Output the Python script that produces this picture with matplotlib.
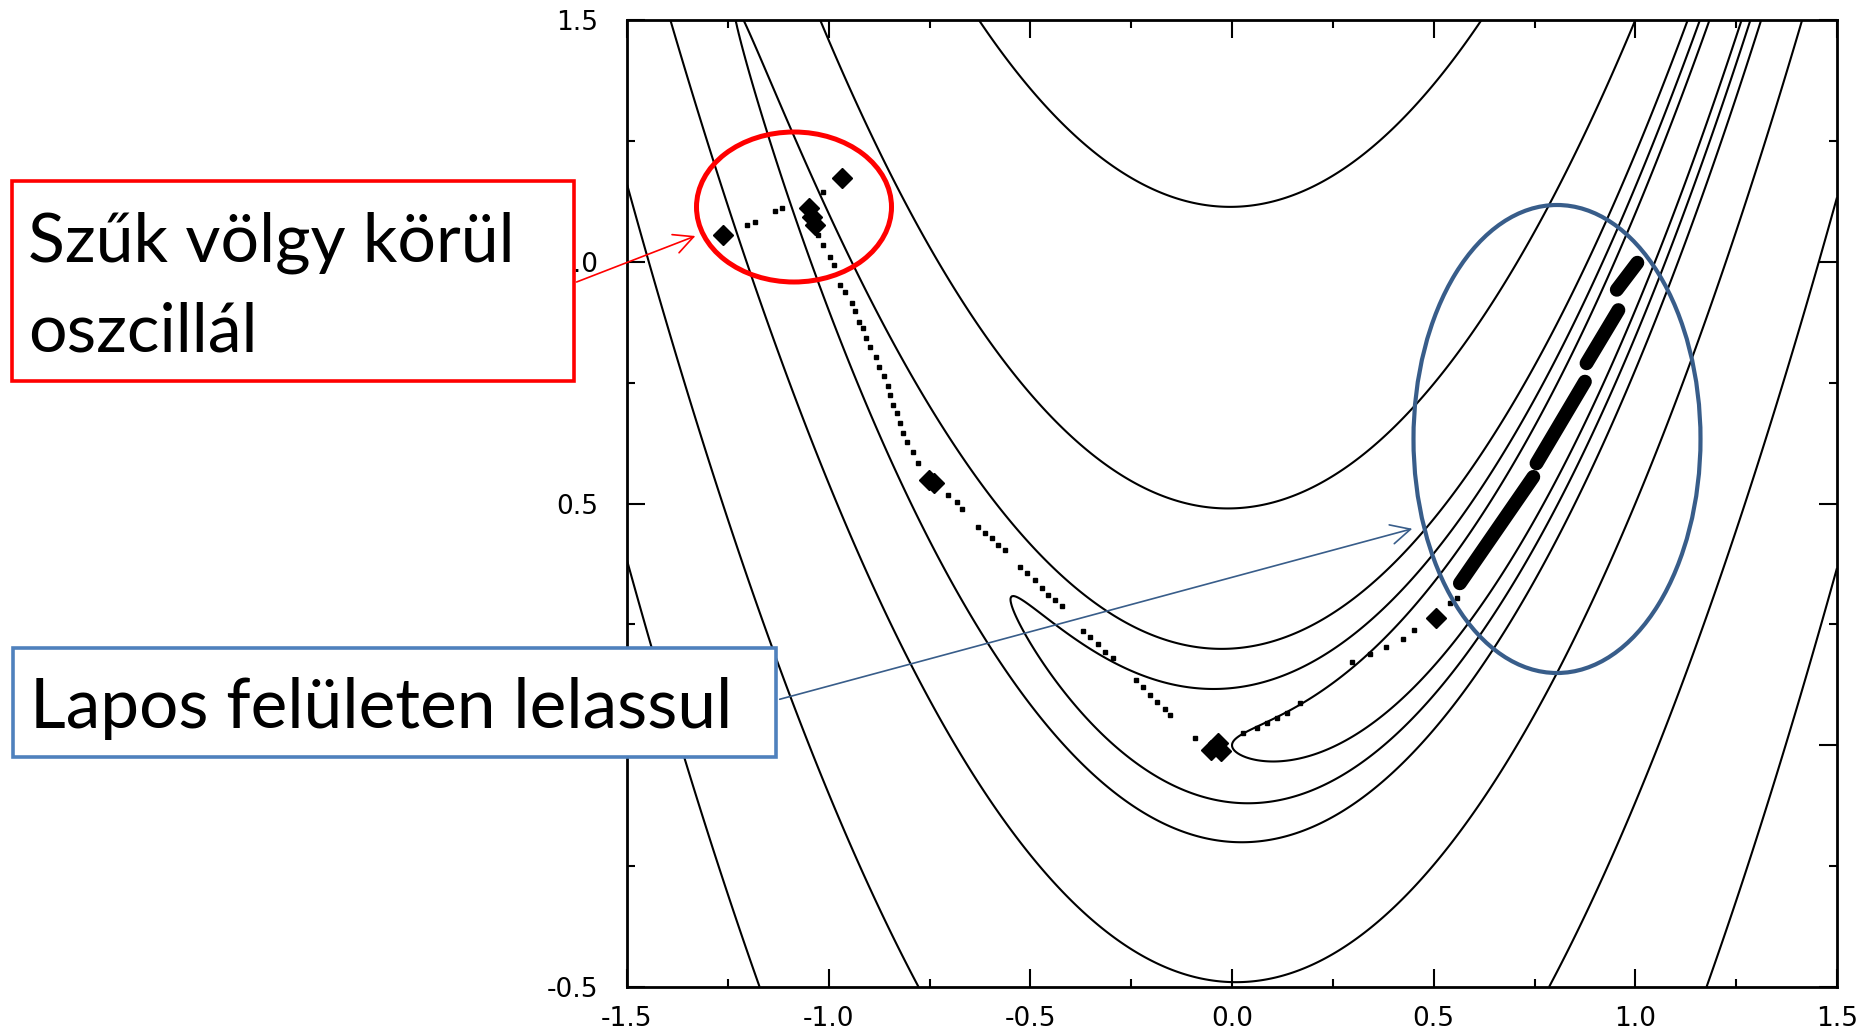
import numpy as np
import matplotlib.pyplot as plt
from matplotlib.patches import Rectangle, Ellipse, FancyArrowPatch
from matplotlib.ticker import MultipleLocator, FormatStrFormatter

plt.rcParams['axes.unicode_minus'] = False

# Rosenbrock surface and the contour levels
ros_a = 1.0
ros_b = 100.0
contour_levels = [1, 2.4, 5, 25, 125, 355]

x_range = [-1.5, 1.5]
y_range = [-0.5, 1.5]
y_ticks = [-0.5, 0.0, 0.5, 1.0, 1.5]
# the 0.0 label sits under the blue callout box in the original
y_tick_labels = ['-0.5', '', '0.5', '1.0', '1.5']

# single iterates of the descent (small dots)
step_x = [-1.203, -1.183, -1.133, -1.116, -1.013,
          -1.026, -1.013, -0.997, -0.988,
          -0.972, -0.960, -0.943, -0.934, -0.924, -0.915, -0.907, -0.898,
          -0.882, -0.874, -0.863, -0.854, -0.848, -0.840, -0.831, -0.823,
          -0.815, -0.807, -0.790, -0.778,
          -0.703, -0.683, -0.670, -0.629, -0.612, -0.596, -0.580, -0.563,
          -0.526, -0.509, -0.488, -0.472, -0.455, -0.439, -0.422,
          -0.369, -0.352, -0.332, -0.315, -0.295,
          -0.237, -0.220, -0.204, -0.187, -0.166, -0.154, -0.092,
          0.028, 0.062, 0.087, 0.112, 0.136, 0.168,
          0.297, 0.342, 0.382, 0.424, 0.450, 0.540, 0.557]
step_y = [1.076, 1.083, 1.104, 1.111, 1.145,
          1.055, 1.035, 1.010, 0.993,
          0.952, 0.938, 0.914, 0.899, 0.876, 0.862, 0.842, 0.823,
          0.802, 0.783, 0.764, 0.743, 0.724, 0.704, 0.687, 0.666,
          0.645, 0.628, 0.607, 0.583,
          0.518, 0.503, 0.488, 0.452, 0.440, 0.428, 0.414, 0.404,
          0.369, 0.356, 0.342, 0.325, 0.311, 0.300, 0.287,
          0.237, 0.223, 0.209, 0.193, 0.180,
          0.135, 0.121, 0.104, 0.090, 0.076, 0.063, 0.014,
          0.025, 0.036, 0.046, 0.056, 0.067, 0.087,
          0.172, 0.189, 0.203, 0.220, 0.238, 0.294, 0.304]

# places where many iterates pile up
cluster_x = [-1.261, -1.050, -1.042, -1.034, -0.968, -0.752, -0.738,
             -0.052, -0.035, -0.028, 0.505]
cluster_y = [1.055, 1.112, 1.093, 1.075, 1.173, 0.548, 0.543,
             -0.010, 0.004, -0.012, 0.263]

# dense runs along the valley towards (1, 1)
run_x0 = [0.565, 0.755, 0.879, 0.954]
run_y0 = [0.335, 0.583, 0.790, 0.942]
run_x1 = [0.747, 0.875, 0.958, 1.005]
run_y1 = [0.555, 0.752, 0.900, 0.998]

red_text = ['Szűk völgy körül', 'oszcillál']
blue_text = 'Lapos felületen lelassul'

W, H = 1868, 1036
fig = plt.figure(figsize=(W / 100, H / 100), dpi=100)
ax = fig.add_axes([627 / W, 1 - 987 / H, (1837 - 627) / W, (987 - 20) / H])

gx = np.linspace(x_range[0], x_range[1], 900)
gy = np.linspace(y_range[0], y_range[1], 700)
X, Y = np.meshgrid(gx, gy)
Z = (ros_a - X) ** 2 + ros_b * (Y - X ** 2) ** 2
ax.contour(X, Y, Z, levels=contour_levels, colors='black', linewidths=1.5)

# descent path
ax.plot(step_x, step_y, 's', color='black', markersize=3)
ax.plot(cluster_x, cluster_y, 'D', color='black', markersize=10)
for xa, ya, xb, yb in zip(run_x0, run_y0, run_x1, run_y1):
    ax.plot([xa, xb], [ya, yb], color='black', lw=10, solid_capstyle='round')

ax.set_xlim(x_range)
ax.set_ylim(y_range)
ax.xaxis.set_major_locator(MultipleLocator(0.5))
ax.xaxis.set_minor_locator(MultipleLocator(0.25))
ax.yaxis.set_minor_locator(MultipleLocator(0.25))
ax.xaxis.set_major_formatter(FormatStrFormatter('%.1f'))
ax.set_yticks(y_ticks)
ax.set_yticklabels(y_tick_labels)
ax.tick_params(which='both', direction='in', top=True, right=True, width=1.5)
ax.tick_params(which='major', length=13, labelsize=19)
ax.tick_params(which='minor', length=6)
ax.tick_params(axis='x', pad=14)
ax.tick_params(axis='y', pad=21)
for s in ax.spines.values():
    s.set_linewidth(2)


def fx(px):
    return px / W


def fy(py):
    return 1 - py / H


# callouts drawn in figure pixels (measured from top-left)
red = '#FF0000'
blue_box = '#4F81BD'
blue_dark = '#385D8A'
font = ['Lato', 'DejaVu Sans']

fig.add_artist(Rectangle((fx(12), fy(381)), fx(574) - fx(12), fy(181) - fy(381),
                         transform=fig.transFigure, facecolor='white',
                         edgecolor=red, lw=2.6, zorder=5))
fig.text(fx(28), fy(261), red_text[0], fontsize=49, family=font, va='baseline', zorder=6)
fig.text(fx(28), fy(351), red_text[1], fontsize=49, family=font, va='baseline', zorder=6)

fig.add_artist(Rectangle((fx(13), fy(757)), fx(776) - fx(13), fy(648) - fy(757),
                         transform=fig.transFigure, facecolor='white',
                         edgecolor=blue_box, lw=2.6, zorder=5))
fig.text(fx(30), fy(728), blue_text, fontsize=50, family=font, va='baseline', zorder=6)

fig.add_artist(Ellipse((fx(794), fy(207)), 195 / W, 150 / H, transform=fig.transFigure,
                       facecolor='none', edgecolor=red, lw=3.6, zorder=5))
fig.add_artist(Ellipse((fx(1557), fy(439)), 287 / W, 468 / H, transform=fig.transFigure,
                       facecolor='none', edgecolor=blue_dark, lw=3.0, zorder=5))

fig.add_artist(FancyArrowPatch((fx(574), fy(283)), (fx(698), fy(235)),
                               transform=fig.transFigure, arrowstyle='->,head_length=0.7,head_width=0.35',
                               mutation_scale=20, color=red, lw=1.2, zorder=5))
fig.add_artist(FancyArrowPatch((fx(777), fy(700)), (fx(1415), fy(528)),
                               transform=fig.transFigure, arrowstyle='->,head_length=0.7,head_width=0.35',
                               mutation_scale=20, color=blue_dark, lw=1.2, zorder=5))

fig.savefig('out.png', dpi=100)
